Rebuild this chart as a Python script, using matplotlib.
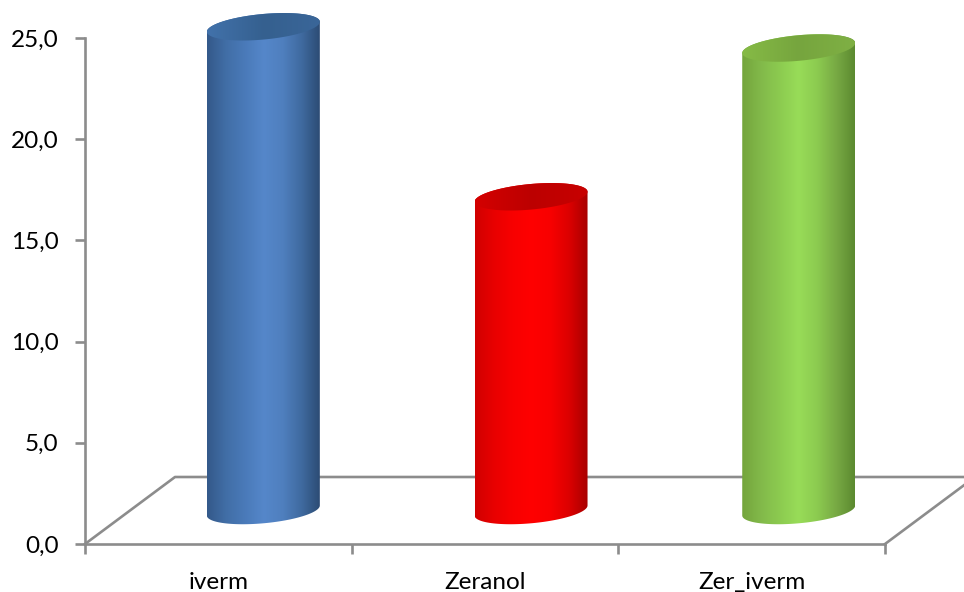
import matplotlib
matplotlib.use('Agg')
import matplotlib.pyplot as plt
import numpy as np
from matplotlib.colors import LinearSegmentedColormap
from matplotlib.patches import PathPatch
from matplotlib.path import Path

categories = ['iverm', 'Zeranol', 'Zer_iverm']
values = [23.9, 15.5, 22.85]
y_ticks = [0, 5, 10, 15, 20, 25]

# side shading of each cylinder, left to right
body_colors = [
    ['#34598a', '#416ea6', '#4a7ab9', '#5587ca', '#4f7fbe', '#3f6a9f', '#2b4a72'],
    ['#d00000', '#e80000', '#f80000', '#ff0000', '#f80000', '#dc0000', '#a80000'],
    ['#74a53c', '#82b94a', '#8ccb50', '#98dc58', '#8ccb50', '#78aa44', '#5c8a30'],
]
top_colors = [
    ['#4272ab', '#35608f', '#3a6699'],
    ['#d40000', '#bc0000', '#c80000'],
    ['#86bb46', '#76a53e', '#7fb044'],
]
grid_color = '#8c8c8c'

plt.rcParams['font.family'] = ['Lato', 'DejaVu Sans']

fig = plt.figure(figsize=(9.64, 5.92), dpi=100)
ax = fig.add_axes([85 / 964, 48 / 592, 800 / 964, 506 / 592])
ax.set_xlim(0, 3)
ax.set_ylim(0, 25)

# size of one pixel in data units, used for the fake 3d offsets
px_x = 3 / 800
px_y = 25 / 506

# floor of the chart
floor_dx = 90 * px_x
floor_dy = 67 * px_y
ax.plot([0, floor_dx, 3 + floor_dx, 3], [0, floor_dy, floor_dy, 0],
        color=grid_color, lw=1.9, clip_on=False, zorder=1)


def ellipse(cx, cy, start, stop, n=60):
    # tilted ellipse, right side higher than the left
    t = np.linspace(start, stop, n)
    x = cx + 56.5 * px_x * np.cos(t)
    y = cy + (12.8 * np.sin(t) + 5 * np.cos(t)) * px_y
    return x, y


def shaded(path, colors, extent, z):
    cmap = LinearSegmentedColormap.from_list('shade', colors)
    grad = np.linspace(0, 1, 256).reshape(1, -1)
    im = ax.imshow(grad, cmap=cmap, extent=extent, aspect='auto', zorder=z,
                   interpolation='bilinear')
    patch = PathPatch(path, transform=ax.transData, fc='none', ec='none')
    ax.add_patch(patch)
    # the tops stick out above the axes, so clip to the figure and the shape only
    im.set_clip_box(fig.bbox)
    im.set_clip_path(patch)


# cylinders
for i, val in enumerate(values):
    cx = 0.5 + floor_dx / 2 + i * 267.7 * px_x
    base = floor_dy / 2
    top = base + val
    left = cx - 56.5 * px_x
    right = cx + 56.5 * px_x

    # body outline: lower half of the base ellipse, then the top ellipse back
    bx, by = ellipse(cx, base, np.pi, 2 * np.pi)
    tx, ty = ellipse(cx, top, 0, np.pi)
    verts = np.column_stack([np.r_[bx, tx], np.r_[by, ty]])
    shaded(Path(np.vstack([verts, verts[0]]), closed=True), body_colors[i],
           (left, right, base - 1, top + 1), 3)

    ex, ey = ellipse(cx, top, 0, 2 * np.pi, 120)
    shaded(Path(np.column_stack([ex, ey]), closed=True), top_colors[i],
           (left, right, top - 1, top + 1), 4)

ax.set_xlim(0, 3)
ax.set_ylim(0, 25)

for side in ['top', 'right']:
    ax.spines[side].set_visible(False)
for side in ['left', 'bottom']:
    ax.spines[side].set_color(grid_color)
    ax.spines[side].set_linewidth(1.9)
    ax.spines[side].set_zorder(2)

ax.set_yticks(y_ticks)
ax.set_yticklabels([('%.1f' % v).replace('.', ',') for v in y_ticks])
ax.set_xticks([0, 1, 2, 3])
ax.set_xticklabels([])
ax.set_xticks([0.5, 1.5, 2.5], minor=True)
ax.set_xticklabels(categories, minor=True)
ax.tick_params(axis='y', length=7, width=1.9, color=grid_color, labelsize=17.5, pad=12)
ax.tick_params(axis='x', which='major', length=7, width=1.9, color=grid_color)
ax.tick_params(axis='x', which='minor', length=0, labelsize=17.5, pad=20)

fig.savefig('out.png', dpi=100)
